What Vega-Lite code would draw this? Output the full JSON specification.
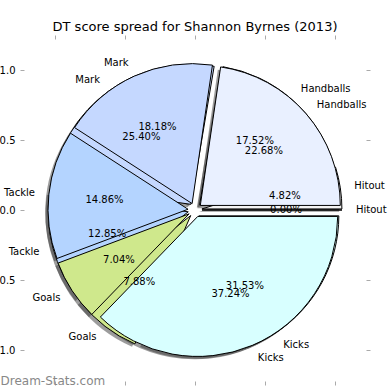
{
  "$schema": "https://vega.github.io/schema/vega-lite/v6.json",
  "width": 350,
  "height": 350,
  "autosize": {"type": "none"},
  "padding": {"left": 20, "top": 35, "right": 20, "bottom": 5},
  "title": {"text": "DT score spread for Shannon Byrnes (2013)", "fontSize": 13, "font": "DejaVu Sans", "fontWeight": "normal", "color": "#000000", "offset": 1},
  "config": {
    "view": {"stroke": null},
    "font": "DejaVu Sans",
    "axis": {"grid": false, "domain": false, "tickColor": "#aaaaaa", "tickSize": 4, "tickWidth": 1, "offset": -4, "labelFont": "DejaVu Sans", "labelFontSize": 10, "labelColor": "#000000", "labelPadding": 5, "title": null},
    "text": {"font": "DejaVu Sans", "fontSize": 10, "baseline": "middle", "color": "#000000"}
  },
  "data": {"values": [
    {"pie": "A", "label": "Hitout", "pct": 4.82},
    {"pie": "A", "label": "Handballs", "pct": 17.52},
    {"pie": "A", "label": "Mark", "pct": 25.40},
    {"pie": "A", "label": "Tackle", "pct": 12.85},
    {"pie": "A", "label": "Goals", "pct": 7.88},
    {"pie": "A", "label": "Kicks", "pct": 31.53},
    {"pie": "B", "label": "Hitout", "pct": 0.00},
    {"pie": "B", "label": "Handballs", "pct": 22.68},
    {"pie": "B", "label": "Mark", "pct": 18.18},
    {"pie": "B", "label": "Tackle", "pct": 14.86},
    {"pie": "B", "label": "Goals", "pct": 7.04},
    {"pie": "B", "label": "Kicks", "pct": 37.24}
  ]},
  "transform": [
    {"window": [{"op": "sum", "field": "pct", "as": "cum"}], "groupby": ["pie"], "frame": [null, 0]},
    {"calculate": "2*PI*(datum.cum - datum.pct)/100", "as": "a1"},
    {"calculate": "2*PI*datum.cum/100", "as": "a2"},
    {"calculate": "(datum.a1 + datum.a2)/2", "as": "am"},
    {"calculate": "PI/2 - datum.a2", "as": "t1"},
    {"calculate": "PI/2 - datum.a1", "as": "t2"},
    {"calculate": "0.05*cos(datum.am)", "as": "ox"},
    {"calculate": "0.05*sin(datum.am)", "as": "oy"},
    {"calculate": "datum.ox - 0.02", "as": "sx"},
    {"calculate": "datum.oy - 0.02", "as": "sy"},
    {"calculate": "datum.ox + 0.6*cos(datum.am)", "as": "px"},
    {"calculate": "datum.oy + 0.6*sin(datum.am)", "as": "py"},
    {"calculate": "datum.ox + 1.1*cos(datum.am)", "as": "lx"},
    {"calculate": "datum.oy + 1.1*sin(datum.am)", "as": "ly"},
    {"calculate": "format(datum.pct, '.2f') + '%'", "as": "ptxt"}
  ],
  "resolve": {"axis": {"x": "independent", "y": "independent"}},
  "layer": [
    {
      "mark": {"type": "arc", "radius": 140, "fill": "#3a3a3a", "fillOpacity": 0.5, "strokeWidth": 0},
      "encoding": {
        "x": {"field": "sx", "type": "quantitative", "scale": {"domain": [-1.25, 1.25], "nice": false, "zero": false},
              "axis": {"orient": "bottom", "values": [-1, -0.5, 0, 0.5, 1], "format": ".1f", "title": "Dream-Stats.com", "titleFontSize": 12, "titleFont": "DejaVu Sans", "titleFontWeight": "normal", "titleColor": "#888888", "titleAnchor": "start", "titleAlign": "left", "titleBaseline": "middle", "titleX": -20, "titleY": -1}},
        "y": {"field": "sy", "type": "quantitative", "scale": {"domain": [-1.25, 1.25], "nice": false, "zero": false},
              "axis": {"orient": "left", "values": [-1, -0.5, 0, 0.5, 1], "format": ".1f"}},
        "theta": {"field": "t1", "type": "quantitative", "scale": null, "stack": null},
        "theta2": {"field": "t2"}
      }
    },
    {
      "transform": [{"filter": "datum.pie === 'A'"}],
      "mark": {"type": "arc", "radius": 140, "stroke": "#000000", "strokeWidth": 1},
      "encoding": {
        "x": {"field": "ox", "type": "quantitative", "scale": {"domain": [-1.25, 1.25], "nice": false, "zero": false},
              "axis": {"orient": "top", "values": [-1, -0.5, 0, 0.5, 1], "labels": false}},
        "y": {"field": "oy", "type": "quantitative", "scale": {"domain": [-1.25, 1.25], "nice": false, "zero": false},
              "axis": {"orient": "right", "values": [-1, -0.5, 0, 0.5, 1], "labels": false}},
        "theta": {"field": "t1", "type": "quantitative", "scale": null, "stack": null},
        "theta2": {"field": "t2"},
        "color": {"field": "label", "type": "nominal", "legend": null,
                  "scale": {"domain": ["Hitout", "Handballs", "Mark", "Tackle", "Goals", "Kicks"], "range": ["#f4f4f4", "#e9f0ff", "#c5d8ff", "#b4d4ff", "#cfe88c", "#d8ffff"]}}
      }
    },
    {
      "transform": [{"filter": "datum.pie === 'B'"}],
      "mark": {"type": "arc", "radius": 140, "stroke": "#000000", "strokeWidth": 1},
      "encoding": {
        "x": {"field": "ox", "type": "quantitative", "scale": {"domain": [-1.25, 1.25], "nice": false, "zero": false}, "axis": null},
        "y": {"field": "oy", "type": "quantitative", "scale": {"domain": [-1.25, 1.25], "nice": false, "zero": false}, "axis": null},
        "theta": {"field": "t1", "type": "quantitative", "scale": null, "stack": null},
        "theta2": {"field": "t2"},
        "color": {"field": "label", "type": "nominal", "legend": null,
                  "scale": {"domain": ["Hitout", "Handballs", "Mark", "Tackle", "Goals", "Kicks"], "range": ["#f4f4f4", "#e9f0ff", "#c5d8ff", "#b4d4ff", "#cfe88c", "#d8ffff"]}}
      }
    },
    {
      "transform": [{"filter": "datum.lx > 0"}],
      "mark": {"type": "text", "align": "left"},
      "encoding": {
        "x": {"field": "lx", "type": "quantitative", "scale": {"domain": [-1.25, 1.25], "nice": false, "zero": false}, "axis": null},
        "y": {"field": "ly", "type": "quantitative", "scale": {"domain": [-1.25, 1.25], "nice": false, "zero": false}, "axis": null},
        "text": {"field": "label"}
      }
    },
    {
      "transform": [{"filter": "datum.lx <= 0"}],
      "mark": {"type": "text", "align": "right"},
      "encoding": {
        "x": {"field": "lx", "type": "quantitative", "scale": {"domain": [-1.25, 1.25], "nice": false, "zero": false}, "axis": null},
        "y": {"field": "ly", "type": "quantitative", "scale": {"domain": [-1.25, 1.25], "nice": false, "zero": false}, "axis": null},
        "text": {"field": "label"}
      }
    },
    {
      "mark": {"type": "text", "align": "center"},
      "encoding": {
        "x": {"field": "px", "type": "quantitative", "scale": {"domain": [-1.25, 1.25], "nice": false, "zero": false}, "axis": null},
        "y": {"field": "py", "type": "quantitative", "scale": {"domain": [-1.25, 1.25], "nice": false, "zero": false}, "axis": null},
        "text": {"field": "ptxt"}
      }
    }
  ]
}
